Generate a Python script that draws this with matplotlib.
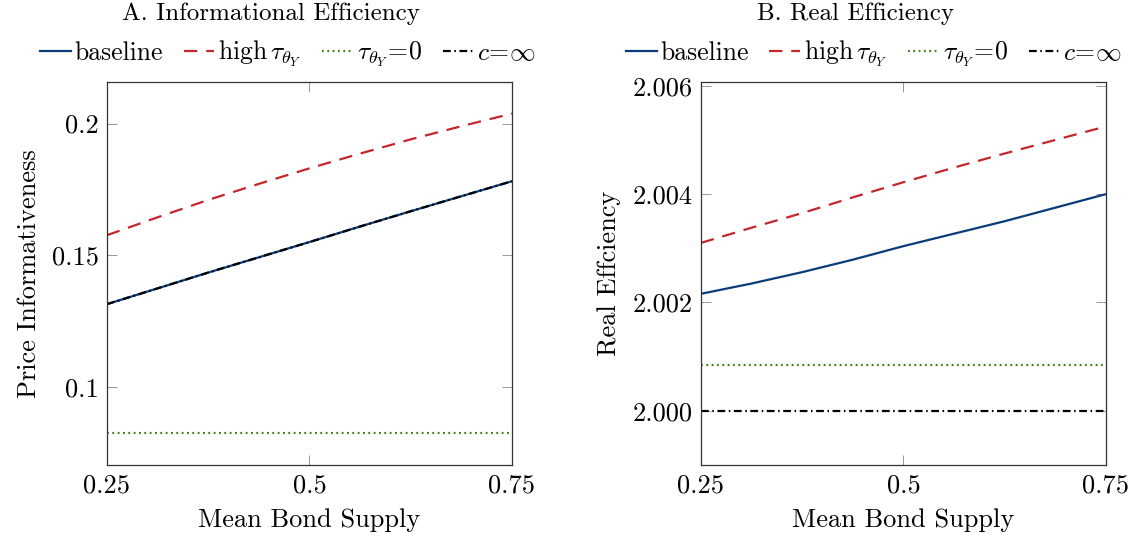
import matplotlib
matplotlib.use('Agg')
import matplotlib.pyplot as plt

plt.rcParams['font.family'] = ['cmr10', 'DejaVu Serif']
plt.rcParams['mathtext.fontset'] = 'cm'
plt.rcParams['axes.unicode_minus'] = False
plt.rcParams['axes.formatter.use_mathtext'] = True
plt.rcParams['font.size'] = 19

# mean bond supply grid
supply = [0.25, 0.3125, 0.375, 0.4375, 0.5, 0.5625, 0.625, 0.6875, 0.75]

# panel A: price informativeness
info_baseline = [0.1314, 0.1374, 0.1434, 0.1492, 0.1550, 0.1609, 0.1667, 0.1724, 0.1781]
info_high_tau = [0.1576, 0.1644, 0.1710, 0.1771, 0.1830, 0.1886, 0.1940, 0.1990, 0.2038]
info_tau_zero = [0.0823] * 9
info_c_inf = list(info_baseline)

# panel B: real efficiency
real_baseline = [2.00216, 2.00235, 2.00256, 2.00279, 2.00304, 2.00327, 2.00350, 2.00375, 2.00400]
real_high_tau = [2.00310, 2.00338, 2.00365, 2.00394, 2.00422, 2.00449, 2.00475, 2.00500, 2.00525]
real_tau_zero = [2.00085] * 9
real_c_inf = [2.0] * 9

labels = ['baseline', r'high$\,\tau_{\theta_Y}$', r'$\tau_{\theta_Y}\!=\!0$', r'$c\!=\!\infty$']

BLUE = '#0b3c7a'
RED = '#c4262b'
GREEN = '#3d7a19'

fig = plt.figure(figsize=(11.37, 5.39), dpi=100)
ax1 = fig.add_axes([0.0941, 0.1373, 0.3562, 0.7106])
ax2 = fig.add_axes([0.6165, 0.1373, 0.3562, 0.7106])


def draw(ax, base, high, zero, cinf):
    lw = 1.6
    ax.plot(supply, base, color=BLUE, lw=lw, label=labels[0])
    ax.plot(supply, high, color=RED, lw=lw, dashes=(6.0, 4.0), label=labels[1])
    ax.plot(supply, zero, color=GREEN, lw=lw, dashes=(0.8, 1.6), label=labels[2])
    ax.plot(supply, cinf, color='black', lw=lw, dashes=(3.5, 1.6, 0.7, 1.6), label=labels[3])
    ax.set_xlim(0.25, 0.75)
    ax.set_xticks([0.25, 0.5, 0.75])
    ax.set_xticklabels(['0.25', '0.5', '0.75'])
    ax.set_xlabel('Mean Bond Supply', labelpad=8)
    ax.tick_params(direction='in', length=7.5, width=0.6, color='#888888',
                   top=True, right=True, pad=6)
    for s in ax.spines.values():
        s.set_linewidth(0.9)
        s.set_color('#333333')


draw(ax1, info_baseline, info_high_tau, info_tau_zero, info_c_inf)
ax1.set_ylim(0.0703, 0.2158)
ax1.set_yticks([0.1, 0.15, 0.2])
ax1.set_yticklabels(['0.1', '0.15', '0.2'])
ax1.set_ylabel('Price Informativeness', labelpad=8)

draw(ax2, real_baseline, real_high_tau, real_tau_zero, real_c_inf)
ax2.set_ylim(1.9990, 2.00607)
ax2.set_yticks([2.000, 2.002, 2.004, 2.006])
ax2.set_yticklabels(['2.000', '2.002', '2.004', '2.006'])
ax2.set_ylabel('Real Effciency', labelpad=8)

leg_kw = dict(loc='center', ncol=4, frameon=False, handlelength=1.2,
              handletextpad=0.15, columnspacing=0.8, borderaxespad=0, fontsize=18.5)
ax1.legend(bbox_to_anchor=(0.447, 1.073), **leg_kw)
ax2.legend(bbox_to_anchor=(0.427, 1.073), **leg_kw)

fig.text(0.2383, 0.975, 'A. Informational Efficiency', ha='center', va='center', fontsize=18)
fig.text(0.752, 0.975, 'B. Real Efficiency', ha='center', va='center', fontsize=18)

fig.savefig('out.png', dpi=100)
